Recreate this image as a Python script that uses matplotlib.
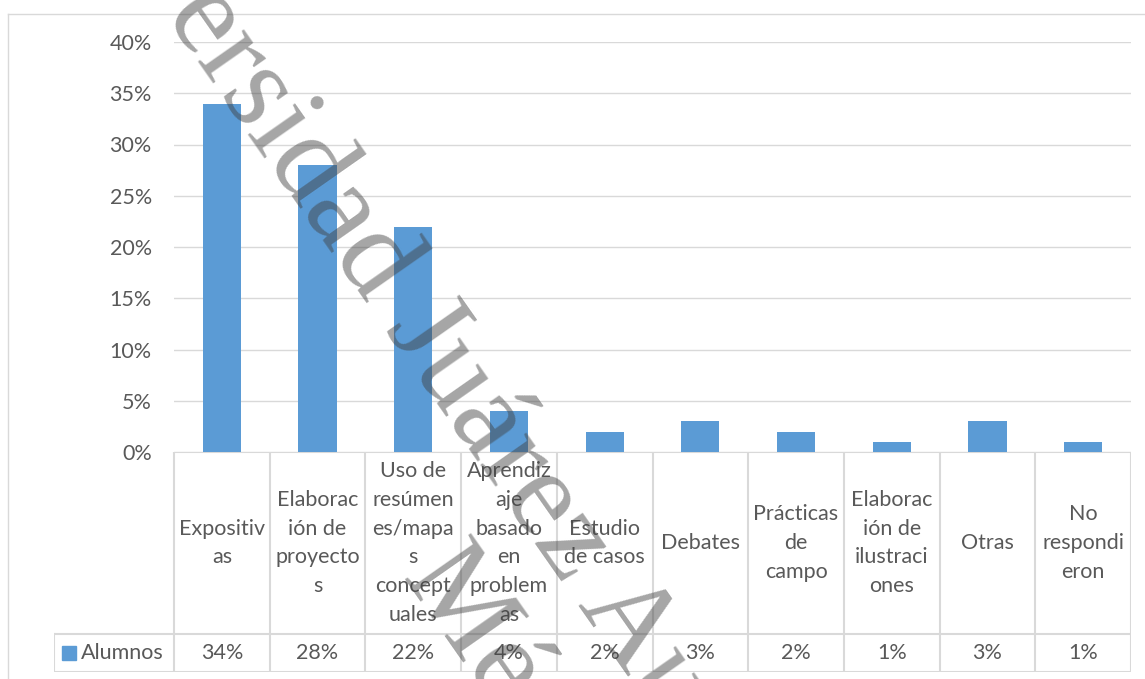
import numpy as np
import matplotlib
matplotlib.use("Agg")
import matplotlib.pyplot as plt
from matplotlib.lines import Line2D
from matplotlib.patches import Rectangle
from matplotlib.ticker import FuncFormatter

# data
categories = [
    "Expositiv\nas",
    "Elaborac\nión de\nproyecto\ns",
    "Uso de\nresúmen\nes/mapa\ns\nconcept\nuales",
    "Aprendiz\naje\nbasado\nen\nproblem\nas",
    "Estudio\nde casos",
    "Debates",
    "Prácticas\nde\ncampo",
    "Elaborac\nión de\nilustraci\nones",
    "Otras",
    "No\nrespondi\neron",
]
alumnos = [0.34, 0.28, 0.22, 0.04, 0.02, 0.03, 0.02, 0.01, 0.03, 0.01]
series_name = "Alumnos"
yticks = [0.0, 0.05, 0.10, 0.15, 0.20, 0.25, 0.30, 0.35, 0.40]

W, H = 1145, 679
BLUE = "#5B9BD5"
GRID = "#d9d9d9"
TXT = "#595959"
FS = 15.5

plt.rcParams["font.family"] = ["Lato", "DejaVu Sans"]
plt.rcParams["font.serif"] = ["Liberation Serif", "DejaVu Serif"]

fig = plt.figure(figsize=(W / 100, H / 100), dpi=100)

# chart area border (left and top edges visible)
fig.add_artist(Line2D([8 / W, 8 / W], [-0.01, 1 - 14 / H], transform=fig.transFigure,
                      color=GRID, lw=1.0))
fig.add_artist(Line2D([8 / W, 1.01], [1 - 14 / H, 1 - 14 / H], transform=fig.transFigure,
                      color=GRID, lw=1.0))

# plot area
left, right, top, base = 174, 1131, 42, 452
ax = fig.add_axes([left / W, 1 - base / H, (right - left) / W, (base - top) / H])
x = np.arange(len(categories))
ax.bar(x, alumnos, width=0.4, color=BLUE, zorder=2)
ax.set_xlim(-0.5, len(categories) - 0.5)
ax.set_ylim(0, 0.40)
ax.set_yticks(yticks)
ax.yaxis.set_major_formatter(FuncFormatter(lambda v, p: f"{v * 100:.0f}%"))
ax.set_xticks([])
ax.tick_params(axis="y", length=0, pad=16, labelsize=FS, labelcolor=TXT)
ax.grid(axis="y", color=GRID, lw=1.0, zorder=0)
for s in ax.spines.values():
    s.set_visible(False)

# data table under the plot
cw = (right - left) / len(categories)
leg_w = 120 / cw
row_h, head_h = 38, 182
tab_left = 54
tax = fig.add_axes([tab_left / W, 1 - 672 / H, (right - tab_left) / W, (672 - base) / H])
tax.set_xlim(-0.5 - leg_w, len(categories) - 0.5)
tax.set_ylim(0, row_h + head_h)
tax.axis("off")
lc = dict(color=GRID, lw=1.5, solid_capstyle="projecting")
x0 = -0.5 - leg_w
x1 = len(categories) - 0.5
tax.plot([-0.5, x1], [row_h + head_h] * 2, **lc)
tax.plot([x0, x1], [row_h] * 2, **lc)
tax.plot([x0, x1], [0, 0], **lc)
tax.plot([x0, x0], [0, row_h], **lc)
for b in np.arange(len(categories) + 1) - 0.5:
    tax.plot([b, b], [0, row_h + head_h], **lc)

for i, (lab, v) in enumerate(zip(categories, alumnos)):
    tax.text(i, row_h + head_h / 2, lab, ha="center", va="center", ma="center",
             fontsize=FS, color=TXT, linespacing=1.55)
    tax.text(i, row_h / 2, f"{v * 100:.0f}%", ha="center", va="center",
             fontsize=FS, color=TXT)

tax.add_patch(Rectangle((x0 + 8 / cw, 12), 14 / cw, 14, color=BLUE))
tax.text(x0 + 27 / cw, row_h / 2, series_name, ha="left", va="center",
         fontsize=FS, color=TXT)

# diagonal watermark over the image
wm = dict(family="serif", fontsize=88, color="#404040",
          alpha=0.47, rotation=-55, rotation_mode="anchor", ha="left", va="baseline",
          zorder=10)
fig.text(24 / W, 1 + 186 / H, "Universidad Juárez Autónoma de Tabasco", **wm)
fig.text(400 / W, 1 - 578 / H, "México", **wm)

fig.savefig("out.png", dpi=100)
